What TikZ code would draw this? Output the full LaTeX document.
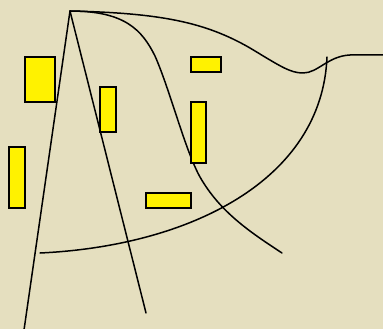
\documentclass[tikz,border=0pt]{standalone}
\definecolor{bg}{RGB}{229,223,191}
\begin{document}
\begin{tikzpicture}[x=1pt,y=-1pt,
  curve/.style={draw=black,line width=1.5pt,line cap=round,line join=round},
  box/.style={draw=black,fill=yellow,line width=1.5pt,inner sep=0pt}]
\fill[bg] (0,0) rectangle (383,329);
\useasboundingbox (0,0) rectangle (383,329);
\coordinate (apex) at (70,11);
\coordinate (l1) at (24,330);
\coordinate (l2) at (146,313);
\coordinate (w1) at (250,48);
\coordinate (wmin) at (303,73);
\coordinate (w2) at (350,55);
\coordinate (wend) at (384,55);
\coordinate (f1) at (155,56);
\coordinate (f2) at (200,177);
\coordinate (fend) at (282,253);
\coordinate (astart) at (40,253);
\coordinate (aend) at (327,57);
\draw[curve] (apex) -- (l1);
\draw[curve] (apex) -- (l2);
% wave curve
\draw[curve] (apex) .. controls (160,13) and (205,22) .. (w1)
  .. controls (280,66) and (290,73) .. (wmin)
  .. controls (318,73) and (328,56) .. (w2) -- (wend);
% falling curve
\draw[curve] (apex) .. controls (125,11) and (142,30) .. (f1)
  .. controls (170,90) and (185,150) .. (f2)
  .. controls (220,212) and (250,232) .. (fend);
% big arc
\draw[curve] (astart) .. controls (190,246) and (322,180) .. (aend);
% boxes
\node[box,minimum width=30pt,minimum height=45pt] (r1) at (40,79.5) {};
\node[box,minimum width=16pt,minimum height=45pt] (r2) at (108,109.5) {};
\node[box,minimum width=16pt,minimum height=61pt] (r3) at (17,177.5) {};
\node[box,minimum width=30pt,minimum height=15pt] (r4) at (206,64.5) {};
\node[box,minimum width=15pt,minimum height=61pt] (r5) at (198.5,132.5) {};
\node[box,minimum width=45pt,minimum height=15pt] (r6) at (168.5,200.5) {};
\end{tikzpicture}
\end{document}
